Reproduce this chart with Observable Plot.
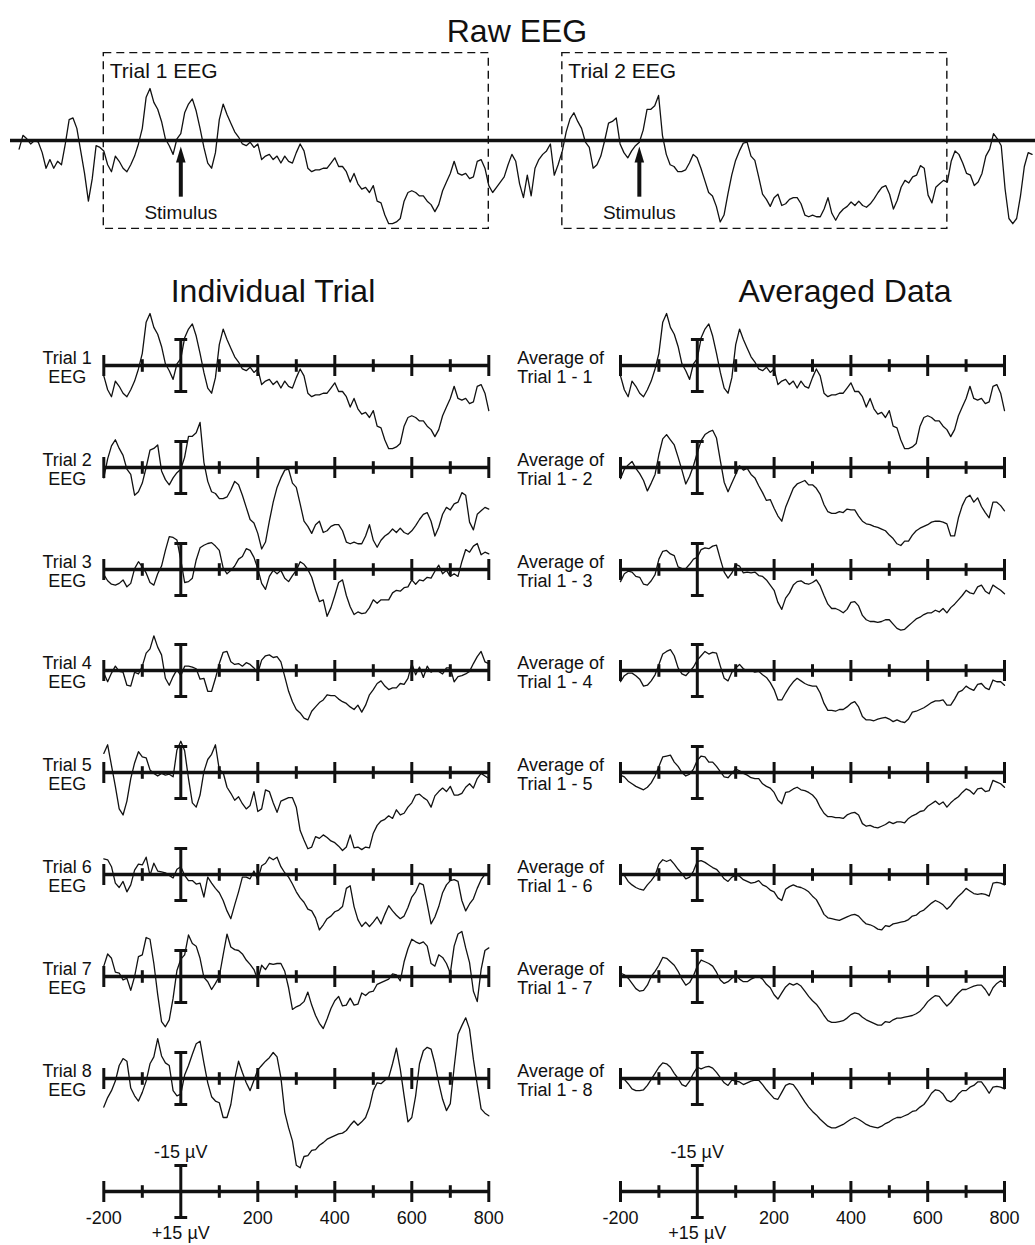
<!DOCTYPE html>
<html>
<head>
<meta charset="utf-8">
<script src="https://cdn.jsdelivr.net/npm/d3@7"></script>
<script src="https://cdn.jsdelivr.net/npm/@observablehq/plot@0.6"></script>
<style>
  body { margin: 0; background: #fff; }
  #chart { position: relative; width: 1035px; height: 1245px; font-family: "Liberation Sans", Arial, Helvetica, sans-serif; color: #111; overflow: hidden; }
  .title { position: absolute; font-size: 32px; line-height: 32px; white-space: nowrap; transform: translateX(-50%); }
</style>
</head>
<body>
<div id="chart"></div>
<script>
// ---------------- DATA (µV, negative plotted upward; samples every 10 ms) ----------------
const TIMES = d3.range(-200, 801, 10);
const TRIAL2_OFFSET = 1191;          // ms between trial 1 and trial 2 in the raw recording
const majorTicks = [-200, 200, 400, 600, 800];
const minorTicks = [-100, 100, 300, 500, 700];
const tickLabels = ["-200", "200", "400", "600", "800"];
const calibration = [-15, 15];
const stimulusTimes = [0, TRIAL2_OFFSET];
const trialWindows = [
  {label: "Trial 1 EEG", start: -200, end: 800},
  {label: "Trial 2 EEG", start: -200 + TRIAL2_OFFSET, end: 800 + TRIAL2_OFFSET}
];

// raw EEG before trial 1 (-420 … -210 ms)
const rawPre = [5,-3,-1,2,0,1,7,16,11,16,12,14,2,-12,-13,-7,6,19,35,22,3,4];
// raw EEG between the two trials (810 … 980 ms)
const rawGap = [30,27,24,21,14,8,12,25,33,20,32,16,11,8,6,2,20,14];
// raw EEG after trial 2
const rawPost = [12,6,8,13,19,20,26,24,19,9,5,-4,-1,3,28,45,48,45,32,15,7,8];

const trial1 = [6,14,18,9,12,16,18,14,9,2,
  -7,-25,-30,-22,-18,-11,-1,3,8,-1,
  -4,-16,-21,-24,-17,-7,4,13,16,7,
  -12,-21,-15,-10,-5,-2,2,3,1,4,
  2,11,9,8,11,9,13,9,12,13,
  7,2,6,16,18,17,17,16,16,13,
  10,15,15,18,24,19,25,28,27,30,
  26,35,36,43,48,48,47,45,35,30,
  29,30,32,32,35,37,41,37,29,24,
  19,12,19,20,19,22,21,12,11,16,
  26];
const trial2 = [6,-5,-12.5,-16,-11,-7,1,4,16,14,
  9,0,-10,-11,-13,2,7,10,6,3,
  1,-6,-18,-18,-20,-26,-3,8,14,15,
  18,18,17,13,8,10,16,23,30,32,
  38,47,43,31,20,11.5,6,1.5,1,9,
  11.5,21,31,34,38,33,31,37.5,36.5,34,
  33,33,36.5,43,44,43,44,44,39.5,33,
  42,46,42,39.5,38,35.5,37.5,35,37.5,38.5,
  36.5,33.5,30,27,26,31,39.5,34.5,27,23,
  24.5,21,20,14.5,16,31.5,36,27,25,23,
  24];
const trial3 = [3,6.5,8.5,9,8,6,10,8,-0.5,-4.5,
  -1.5,2,7.5,9,2.5,-2,-11,-19,-18.5,-17,
  -5.5,7.5,7,5,-5.5,-12.5,-14,-15,-15.5,-13.5,
  -11,-1,2.5,0.5,-2,-6,-7.5,-12,-11,-7,
  -0.5,8,11.5,4,0.5,2.5,0.5,5,7,3.5,
  0.5,-4.5,-3,0,4.5,12,18.5,17.5,27,22,
  15,7.5,6,15,21.5,26,24.5,25.5,25,22,
  17.5,19.5,17.5,17.5,17.5,13.5,12,12.5,10.5,10,
  6,8.5,6,6.5,4.5,5,1,-2.5,2.5,0.5,
  4,2.5,4,-4.5,-11.5,-10,-13.5,-15,-8.5,-10,
  -9];
const trial4 = [1.5,6.5,1.5,-2.5,0.5,1,8.5,9,1,2,
  -2.5,-10,-12.5,-20,-13.5,-9,4.5,8.5,3.5,-0.5,
  3,-2.5,-2.5,-2,-1,5,4.5,12,12,4.5,
  -4,-10.5,-11,-5,-3.5,-4,-2.5,-4.5,-3.5,-1.5,
  1.5,-6,-8.5,-9,-7.5,-8,-5,3.5,12,18,
  22.5,24.5,27.5,28.5,23.5,21,18.5,17,14,14.5,
  14.5,16.5,18,19,21,22.5,20,24,20,14,
  11,7.5,6,9,11,10,10,7.5,8,4.5,
  -4,2.5,-2,4,-2.5,1,-0.5,0.5,2,-1.5,
  -1.5,6.5,3.5,3,2,0.5,-4,-8,-11,-5,
  -4];
const trial5 = [-11,-16,-4,8,21,24.5,16.5,3.5,-5.5,-12,
  -9,-8.5,-1.5,0.5,2,0.5,1.5,1,2.5,-13,
  -18,-12.5,3.5,17.5,20,13,-0.5,-7.5,-10.5,-16,
  -1.5,0,8.5,12,16,14,18,21,19,11,
  22.5,21,10,11,17.5,23,16.5,15.5,14.5,14.5,
  20,33.5,39,44,43,37,38,36,37.5,39.5,
  40.5,42.5,45,43,36,43.5,43,44.5,43,43.5,
  35,30.5,28,27,25,26.5,21.5,24.5,23.5,20,
  17.5,13,12.5,14.5,16,20,13.5,11,9,11,
  8,13,13,12,8.5,6.5,9,3.5,0.5,2,
  3.5];
const trial6 = [-9,-8.5,-4.5,5,7.5,4,10,6,-2.5,-6,
  -5.5,-10,0.5,-6.5,-2,-1.5,-1,0.5,2,-3,
  -4.5,0.5,3.5,3.5,5.5,5,13,1.5,5,8,
  10.5,15,21,25.5,17.5,10,1.5,1.5,2.5,-2,
  3,-5,-6.5,-10,-8.5,-10,-4.5,-1,1.5,5.5,
  10,13.5,16,20,21,25,32,29,25.5,24,
  21.5,20.5,18.5,8,6.5,18.5,26,30,27.5,30,
  27.5,24.5,28.5,23,18,21,23.5,25.5,24,19,
  13,10,5,6,17,28.5,24.5,18.5,10.5,6,
  3.5,3,4,15,21,17,14,8,3,0,
  -0.5];
const trial7 = [-6,-13,-10.5,-2.5,-2,2,1,8,0,-11.5,
  -12.5,-22.5,-21.5,-7.5,10.5,26,29,25,12.5,-3.5,
  -10,-12.5,-24,-19,-17.5,-10.5,0.5,3,7.5,4,
  0,-12.5,-24.5,-17,-15.5,-15,-13,-9.5,-7,-4,
  2,-6.5,-4,-7.5,-7,-7.5,-7.5,-3,6.5,19,
  17.5,16.5,14.5,9,16.5,22.5,27,30,24.5,18.5,
  14,11.5,17,16.5,12.5,16.5,16,9.5,11,9,
  8.5,4.5,3.5,2.5,1.5,-1.5,-1,2.5,-8.5,-16,
  -21.5,-20,-19,-20,-17.5,-7.5,-6,-12.5,-11,-7.5,
  -2,-17.5,-24.5,-26,-16.5,-8,8.5,14.5,-4,-15,
  -16.5];
const trial8 = [16.5,11,7,1.5,-7.5,-11.5,-10,5.5,10,13,
  8,1.5,-8.5,-12.5,-23,-13,-9,-7.5,7,10,
  9,-2,-7.5,-14,-20,-21.5,-9,2.5,10.5,13,
  14,22.5,22.5,15,0.5,-10,-3.5,2.5,7,1,
  -5,-7.5,-10,-12,-15,-12.5,-0.5,19.5,28.5,36,
  50,51.5,45,44.5,41.5,41,38.5,37,35,34,
  33,32,31.5,30,27,24.5,27,25,22.5,16.5,
  7,2.5,3,1,-0.5,-8.5,-17.5,-5.5,10,25,
  22.5,10,-8.5,-16,-18,-17,-8.5,2.5,12,18.5,
  14.5,-6.5,-25.5,-30.5,-35,-28.5,-11,3.5,17.5,20,
  21.5];

// running averages as read from the right-hand column (average of trial 1-1 equals trial 1)
const avg2 = [6.5,1,-1.5,-3.5,0.5,3.5,7.5,13.5,9,4,
  -7.5,-16.5,-19,-16,-13,-6,1.5,9.5,5,-1,
  -8.5,-15.5,-19,-20.5,-21.5,-17,-4,8.5,14,9,
  4,-1,1.5,0.5,4,6,10.5,14.5,19,18.5,
  23.5,28,31,23,17.5,12,9.5,8.5,7.5,10,
  10,12,15.5,21.5,25.5,26.5,26.5,25.5,26,24,
  24.5,24.5,28,31,32.5,33,34,34.5,35.5,36.5,
  39,41,44,45,42.5,42.5,39,36.5,35,34,
  33,31.5,31,31,31.5,32.5,39.5,39.5,29,22,
  17.5,16,20,17.5,22.5,26,29,20,20,22,
  25];
const avg3 = [7,2.5,1,1.5,4,4.5,8.5,9,6.5,3,
  -6,-10.5,-11,-9,-8,-1.5,-0.5,-0.5,-3,-6,
  -7,-11.5,-12.5,-12,-13.5,-14,-6,1.5,5,2,
  -3,-2,2,1.5,2,1.5,3.5,4,6,9,
  12,19,23,16.5,13.5,9,7,6.5,8,8.5,
  7.5,6,9.5,15,20,22.5,22.5,23.5,25,23,
  19,18.5,21,26.5,29,30,30,30.5,30,29,
  29,31.5,34,35,34.5,32.5,30.5,28.5,27.5,26,
  25,25,23.5,24.5,22.5,25,22,20,17.5,15,
  12,13.5,14,10,9,12.5,14,9,10.5,12,
  14];
const avg4 = [6.5,3,1.5,1.5,3,5,9,8.5,6,2.5,
  -3.5,-9.5,-11,-12,-8.5,-1.5,2,3,0.5,-2,
  -6,-8.5,-11,-9.5,-10.5,-10,-2.5,4.5,6,1,
  -1.5,-3.5,-1,0,0,1,0.5,2.5,4,7,
  11,17,17,13,9.5,6.5,4.5,6,7.5,8.5,
  9,9,13,19,23,23,23.5,22.5,22.5,21,
  19,18,21,26.5,28.5,28.5,29,28,27.5,27,
  28,29.5,28.5,29.5,30,28,24,23.5,22.5,21.5,
  20,18.5,17.5,17.5,17,20,20,16.5,12.5,11.5,
  9,10.5,11.5,8,7.5,10,11,5.5,6.5,6.5,
  8.5];
const avg5 = [1.5,2.5,5,6.5,8,9,10,8.5,6,2,
  -3.5,-9,-9.5,-10,-6,-3.5,0,2,1,-2,
  -7,-9.5,-9,-6,-6,-3.5,-0.5,2.5,3,0.5,
  -2,-1,0.5,1.5,3,3.5,3.5,6.5,8,9,
  11.5,16,18,11.5,11,9.5,8.5,10,10.5,11.5,
  13,15.5,20,23.5,25.5,25.5,26,26,26.5,24.5,
  23.5,23,24.5,29.5,31,30.5,31.5,32,31,30,
  28.5,29.5,28.5,28.5,29,26.5,25,24,22.5,22,
  19.5,18,16.5,18.5,17,20,17.5,15.5,14,11.5,
  9.5,10.5,12.5,9.5,9,11,10.5,4.5,5.5,6.5,
  8.5];
const avg6 = [-0.5,0.5,4,6,7.5,8.5,9,6,3.5,0.5,
  -6,-8.5,-7.5,-8.5,-6,-3,-0.5,2.5,1.5,-2,
  -7.5,-8,-7,-5.5,-4,-3,-0.5,2.5,4,1.5,
  0.5,1,3,4,5,4.5,3.5,6,7,9,
  10,13.5,15,8.5,7,6,7,7.5,8.5,10,
  12.5,14.5,18.5,23,25,25.5,26,26.5,25.5,24.5,
  23.5,23,24,26.5,28.5,29,30,31.5,32,29.5,
  30,28.5,28,27.5,27,26,24,23.5,21.5,20.5,
  18.5,16.5,15,16,17.5,20,18,15,12.5,10.5,
  8,9.5,11,11.5,11,11.5,12.5,5,4.5,5,
  6];
const avg7 = [-2,-1,1,4,7,8.5,8,5,0,-3,
  -6.5,-11,-10.5,-8.5,-6.5,-3,1.5,5,3.5,-0.5,
  -6,-9.5,-8.5,-7.5,-6,-2.5,2,4,3,1,
  -0.5,1.5,3,3,1.5,0.5,0,1.5,4.5,6.5,
  10.5,13,9.5,6,4,5,4,5.5,8.5,11.5,
  14,16,19,22.5,25.5,26.5,26.5,26,25.5,24,
  22,21,21.5,23.5,25,26,27,28,28,26,
  26.5,25,24,24,23.5,23,22.5,21.5,20,17.5,
  14.5,12.5,11,11.5,14.5,17,15,12,9.5,7.5,
  7.5,6.5,5.5,5,5,7.5,11,6.5,4,2.5,
  4];
const avg8 = [-0.5,0.5,3,6,7,7,6.5,4,0.5,-3,
  -6.5,-9,-8.5,-6.5,-3,0,3.5,4.5,1.5,-3,
  -6.5,-5.5,-6.5,-7,-6,-3.5,-0.5,2.5,4,1,
  1.5,2,3.5,2.5,1.5,1,1,3.5,6.5,9,
  11.5,12,8,4,3,3.5,6.5,10,13.5,16.5,
  19,21,23.5,25.5,27.5,28.5,28.5,27.5,26.5,25,
  23.5,22.5,23.5,25,26.5,27.5,28,28.5,27.5,26,
  25,23.5,22.5,22.5,21.5,20.5,19,18.5,16.5,15,
  12,8.5,6.5,7,9,12.5,13.5,12,9,7,
  7,5,4,2,2,5,8.5,5,4.5,5,
  6];

const trials = [trial1, trial2, trial3, trial4, trial5, trial6, trial7, trial8];
const averages = [trial1, avg2, avg3, avg4, avg5, avg6, avg7, avg8];
const trialLabels = trials.map((_, i) => `Trial ${i + 1}\nEEG`);
const averageLabels = averages.map((_, i) => `Average of\nTrial 1 - ${i + 1}`);

// ---------------- LAYOUT / STYLE ----------------
const FONT = '"Liberation Sans", Arial, Helvetica, sans-serif';
const INK = "#111";
const PX_PER_UV = 26 / 15;
const LEFT_RANGE = [103.3, 488.3];
const RIGHT_RANGE = [620, 1004];
const ROW_FIRST = 365, ROW_STEP = 101.8, AXIS_ROW = 1190.7;
const chart = document.getElementById("chart");

const vLine = {draw(ctx, size) { const r = Math.sqrt(size / Math.PI); ctx.moveTo(0, -r); ctx.lineTo(0, r); }};
const hLine = {draw(ctx, size) { const r = Math.sqrt(size / Math.PI); ctx.moveTo(-r, 0); ctx.lineTo(r, 0); }};
const arrowHead = {draw(ctx, size) { const r = Math.sqrt(size / Math.PI); ctx.moveTo(0, 0); ctx.lineTo(0.3 * r, r); ctx.lineTo(-0.3 * r, r); ctx.closePath(); }};

function place(svg, top) {
  svg.style.position = "absolute";
  svg.style.left = "0px";
  svg.style.top = top + "px";
  svg.style.overflow = "visible";
  svg.style.background = "transparent";
  svg.style.maxWidth = "none";
  chart.appendChild(svg);
}
function yScale(H, base) {
  return {domain: [-base / PX_PER_UV, (H - base) / PX_PER_UV], range: [0, H], axis: null};
}
function axisMarks() {
  return [
    Plot.ruleY([0], {x1: -200, x2: 800, stroke: INK, strokeWidth: 3.3}),
    Plot.dot(majorTicks, {x: d => d, y: 0, symbol: vLine, r: 10.5, stroke: INK, strokeWidth: 3, fill: "none"}),
    Plot.dot(minorTicks, {x: d => d, y: 0, symbol: vLine, r: 6.3, stroke: INK, strokeWidth: 3, fill: "none"}),
    Plot.ruleX([0], {y1: calibration[0], y2: calibration[1], stroke: INK, strokeWidth: 3}),
    Plot.dot(calibration, {x: 0, y: d => d, symbol: hLine, r: 6.4, stroke: INK, strokeWidth: 3, fill: "none"})
  ];
}
const baseStyle = {background: "transparent", overflow: "visible", fontFamily: FONT, color: INK};

function panel(values, label, xRange, base, anchor, dx) {
  const H = 240;
  const data = values.map((v, i) => ({t: TIMES[i], v}));
  const svg = Plot.plot({
    width: 1035, height: H, margin: 0,
    x: {domain: [-200, 800], range: xRange, axis: null},
    y: yScale(H, H / 2),
    style: baseStyle,
    marks: [
      ...axisMarks(),
      Plot.line(data, {x: "t", y: "v", stroke: INK, strokeWidth: 1.3}),
      Plot.text([label], {x: -200, y: 0, text: d => d, dx, dy: 1.5, textAnchor: anchor, lineAnchor: "middle",
        lineHeight: 1.05, fontSize: 18, fontFamily: FONT, fill: INK})
    ]
  });
  place(svg, base - H / 2);
}

function axisPanel(xRange) {
  const H = 240;
  const svg = Plot.plot({
    width: 1035, height: H, margin: 0,
    x: {domain: [-200, 800], range: xRange, axis: null},
    y: yScale(H, H / 2),
    style: baseStyle,
    marks: [
      ...axisMarks(),
      Plot.text(majorTicks, {x: d => d, y: 0, text: (d, i) => tickLabels[i], dy: 19.5, lineAnchor: "top", fontSize: 18, fontFamily: FONT, fill: INK}),
      Plot.text(["-15 µV"], {x: 0, y: calibration[0], text: d => d, dy: -8, lineAnchor: "bottom", fontSize: 18, fontFamily: FONT, fill: INK}),
      Plot.text(["+15 µV"], {x: 0, y: calibration[1], text: d => d, dy: 8.3, lineAnchor: "top", fontSize: 18, fontFamily: FONT, fill: INK})
    ]
  });
  place(svg, AXIS_ROW - H / 2);
}

// ---------------- RAW EEG ----------------
const rawData = [
  ...rawPre.map((v, i) => ({t: -200 - 10 * (rawPre.length - i), v})),
  ...trial1.map((v, i) => ({t: TIMES[i], v})),
  ...rawGap.map((v, i) => ({t: 800 + 10 * (i + 1), v})),
  ...trial2.map((v, i) => ({t: TIMES[i] + TRIAL2_OFFSET, v})),
  ...rawPost.map((v, i) => ({t: 800 + TRIAL2_OFFSET + 10 * (i + 1), v}))
];
const BOX_TOP = -50.4, BOX_BOTTOM = 51, ARROW_TIP = 3.5, ARROW_TAIL = 32.7;
{
  const H = 250, base = 140;
  const svg = Plot.plot({
    width: 1035, height: H, margin: 0,
    x: {domain: [-200, 800], range: LEFT_RANGE, axis: null},
    y: yScale(H, base),
    style: baseStyle,
    marks: [
      Plot.rect(trialWindows, {x1: "start", x2: "end", y1: BOX_TOP, y2: BOX_BOTTOM, fill: "none", stroke: INK, strokeWidth: 1.4, strokeDasharray: "8,5"}),
      Plot.text(trialWindows, {x: "start", y: BOX_TOP, text: "label", dx: 6, dy: 10, textAnchor: "start", lineAnchor: "top", fontSize: 21, fontFamily: FONT, fill: INK}),
      Plot.ruleY([0], {insetLeft: 10, stroke: INK, strokeWidth: 3.3}),
      Plot.line(rawData, {x: "t", y: "v", stroke: INK, strokeWidth: 1.3}),
      Plot.ruleX(stimulusTimes, {y1: ARROW_TIP + 6, y2: ARROW_TAIL, stroke: INK, strokeWidth: 4}),
      Plot.dot(stimulusTimes, {x: d => d, y: ARROW_TIP, symbol: arrowHead, r: 16, fill: INK, stroke: "none"}),
      Plot.text(stimulusTimes, {x: d => d, y: ARROW_TAIL, text: () => "Stimulus", dy: 8.5, lineAnchor: "top", fontSize: 19, fontFamily: FONT, fill: INK})
    ]
  });
  place(svg, 0);
}

// ---------------- TRIAL ROWS ----------------
trials.forEach((vals, i) => panel(vals, trialLabels[i], LEFT_RANGE, ROW_FIRST + i * ROW_STEP, "middle", -36.6));
averages.forEach((vals, i) => panel(vals, averageLabels[i], RIGHT_RANGE, ROW_FIRST + i * ROW_STEP, "start", -103.3));
axisPanel(LEFT_RANGE);
axisPanel(RIGHT_RANGE);

// ---------------- TITLES ----------------
const titles = [
  {text: "Raw EEG", x: 517, top: 15},
  {text: "Individual Trial", x: 273, top: 275},
  {text: "Averaged Data", x: 845, top: 275}
];
titles.forEach(t => {
  const div = document.createElement("div");
  div.className = "title";
  div.textContent = t.text;
  div.style.left = t.x + "px";
  div.style.top = t.top + "px";
  chart.appendChild(div);
});
</script>
</body>
</html>
